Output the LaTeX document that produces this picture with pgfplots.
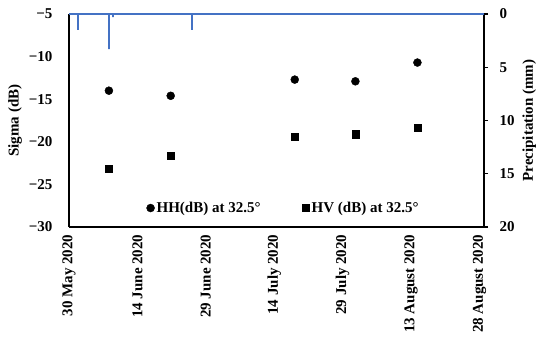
\documentclass[border=0pt]{standalone}
\usepackage{pgfplots}
\pgfplotsset{compat=1.18}
\usepackage{fontspec}
\setmainfont{Liberation Serif}
\definecolor{precip}{RGB}{68,114,196}
\begin{document}
\begin{tikzpicture}[font=\fontsize{15}{18}\selectfont\bfseries]
\begin{axis}[
  scale only axis, width=415pt, height=213pt,
  xmin=0, xmax=91, ymin=-30, ymax=-5,
  axis x line*=bottom, axis y line*=left,
  axis line style={black, line width=1.2pt, -},
  ytick={-30,-25,-20,-15,-10,-5},
  yticklabels={−30,−25,−20,−15,−10,−5},
  yticklabel style={xshift=-13pt},
  xtick={0,15,30,45,60,75,90},
  xticklabels={30 May 2020,14 June 2020,29 June 2020,14 July 2020,29 July 2020,13 August 2020,28 August 2020},
  xticklabel style={rotate=90, anchor=east, xshift=-4pt},
  major tick length=0pt,
  ylabel={Sigma (dB)},
  legend style={at={(0.517,0.089)}, anchor=center, draw=none, fill=none,
    legend columns=2, /tikz/every even column/.append style={column sep=40pt}},
  legend cell align=left,
]
\addplot[only marks, mark=*, mark size=4pt, black] coordinates {
  (8.75,-14.0) (22.3,-14.6) (49.5,-12.7) (62.8,-12.9) (76.4,-10.7)};
\addlegendentry{HH(dB) at 32.5°}
\addplot[only marks, mark=square*, mark size=3.6pt, black] coordinates {
  (8.75,-23.2) (22.3,-21.6) (49.5,-19.4) (62.8,-19.1) (76.4,-18.3)};
\addlegendentry{HV (dB) at 32.5°}
\end{axis}
\begin{axis}[
  scale only axis, width=415pt, height=213pt,
  xmin=0, xmax=91, ymin=0, ymax=20, y dir=reverse,
  axis x line=none, axis y line*=right,
  axis line style={black, line width=1.2pt, -},
  ytick={0,5,10,15,20},
  yticklabels={0,5,10,15,20},
  yticklabel style={xshift=8pt},
  tick align=outside, major tick length=4pt,
  tick style={black, line width=1.2pt},
  ylabel={Precipitation (mm)},
  ylabel shift=1pt,
  clip=false,
]
\addplot[precip, line width=2pt, line join=bevel] coordinates {
  (0,0) (2,0) (2,1.5) (2,0) (8.75,0) (8.75,3.3) (8.75,0)
  (9.7,0) (9.7,0.3) (9.7,0) (27,0) (27,1.5) (27,0) (91,0)};
\end{axis}
\pgfresetboundingbox
\path ([xshift=-69pt,yshift=-117pt]current axis.south west) rectangle ([xshift=66pt,yshift=14pt]current axis.north east);
\end{tikzpicture}
\end{document}
